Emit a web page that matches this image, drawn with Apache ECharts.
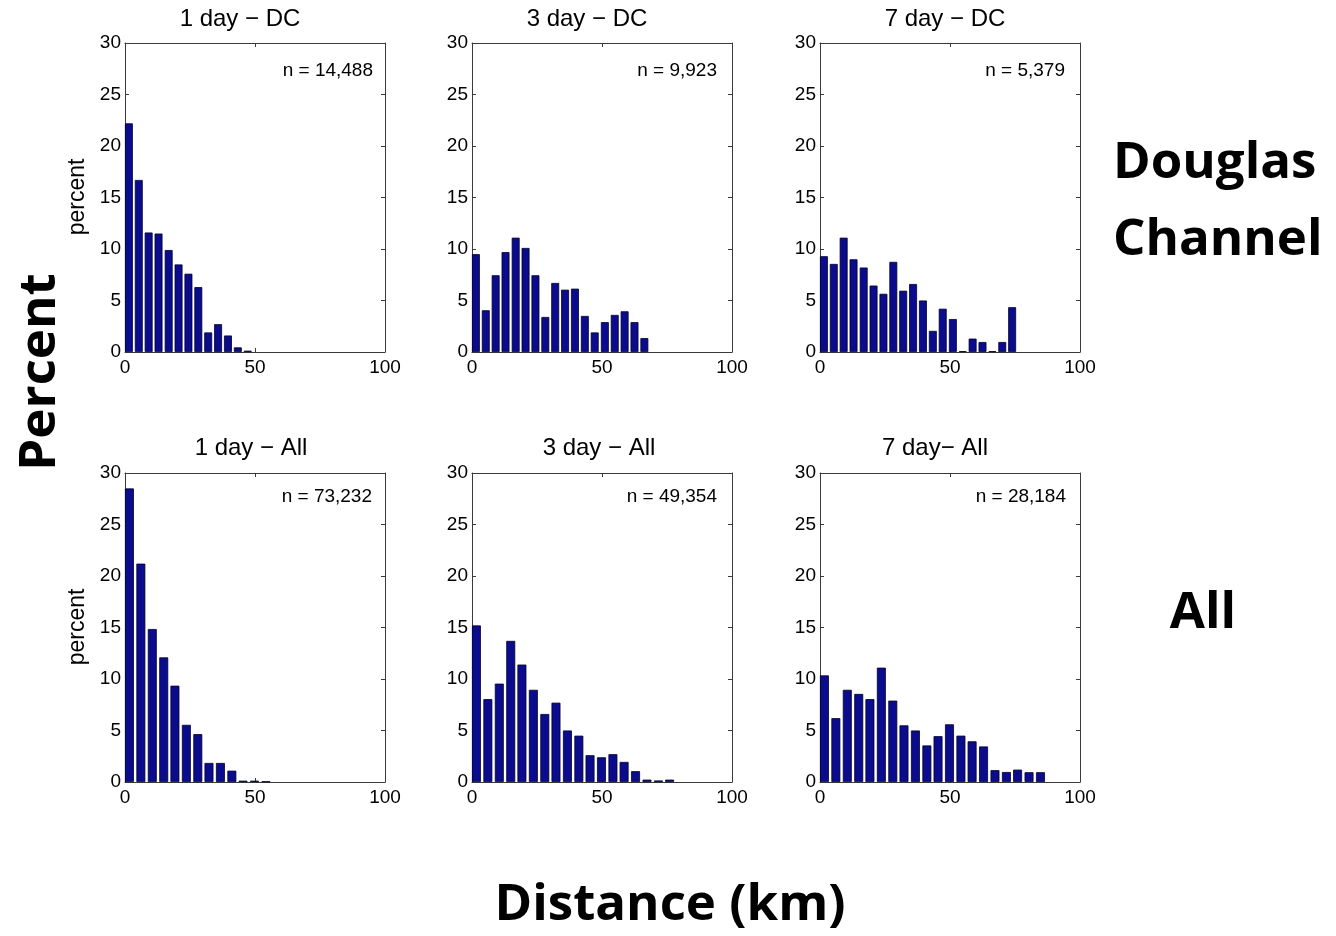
<!DOCTYPE html>
<html>
<head>
<meta charset="utf-8">
<title>Distance histograms</title>
<script src="https://cdn.jsdelivr.net/npm/echarts@6/dist/echarts.min.js"></script>
<style>
  html, body {margin: 0; padding: 0; background: #fff;}
  #chart {width: 1336px; height: 936px;}
</style>
</head>
<body>
<div id="chart"></div>
<script>
// bin centres in km (top row bins ~3.8 km wide, bottom row ~4.4 km)
const binsDC = [1.5, 5.3, 9.1, 12.9, 16.8, 20.6, 24.4, 28.2, 32.0, 35.8, 39.6, 43.4, 47.2, 51.1, 54.9, 58.7, 62.5, 66.3, 70.1, 73.9]
const binsAll = [1.7, 6.1, 10.5, 14.9, 19.2, 23.6, 28.0, 32.3, 36.7, 41.1, 45.4, 49.8, 54.2, 58.5, 62.9, 67.3, 71.7, 76.0, 80.4, 84.8]

// percent per bin
const day1DC = [22.2, 16.7, 11.6, 11.5, 9.9, 8.5, 7.6, 6.3, 1.9, 2.7, 1.6, 0.45, 0.13]
const day3DC = [9.5, 4.05, 7.45, 9.7, 11.1, 10.1, 7.45, 3.4, 6.7, 6.05, 6.15, 3.5, 1.9, 2.9, 3.6, 3.95, 2.9, 1.35]
const day7DC = [9.3, 8.55, 11.1, 9.0, 8.2, 6.45, 5.65, 8.75, 5.95, 6.6, 5.0, 2.05, 4.2, 3.2, 0.08, 1.3, 0.97, 0.08, 0.97, 4.35]
const day1All = [28.5, 21.2, 14.85, 12.1, 9.35, 5.55, 4.65, 1.85, 1.85, 1.1, 0.13, 0.13, 0.06]
const day3All = [15.2, 8.05, 9.55, 13.7, 11.4, 8.95, 6.6, 7.7, 5.0, 4.5, 2.6, 2.4, 2.7, 1.95, 1.05, 0.23, 0.15, 0.23]
const day7All = [10.35, 6.2, 8.95, 8.55, 8.05, 11.1, 7.9, 5.5, 5.0, 3.55, 4.45, 5.6, 4.5, 3.95, 3.45, 1.15, 0.97, 1.2, 0.95, 0.95]

const panelTitles = ['1 day \u2212 DC', '3 day \u2212 DC', '7 day \u2212 DC', '1 day \u2212 All', '3 day \u2212 All', '7 day\u2212 All']
const panelCounts = ['n = 14,488', 'n = 9,923', 'n = 5,379', 'n = 73,232', 'n = 49,354', 'n = 28,184']
const xTicks = {min: 0, max: 100, interval: 50}
const yTicks = {min: 0, max: 30, interval: 5}

const panels = [
  {values: day1DC, bins: binsDC},
  {values: day3DC, bins: binsDC},
  {values: day7DC, bins: binsDC},
  {values: day1All, bins: binsAll},
  {values: day3All, bins: binsAll},
  {values: day7All, bins: binsAll},
]

// layout in px
const colLeft = [125, 472, 820]
const rowTop = [43, 473]
const boxW = 260
const boxH = 309
const titleX = [240, 587, 945, 251, 599, 935]
const countRight = [373, 717, 1065, 372, 717, 1066]

const matFont = "'Liberation Sans', Arial, sans-serif"
const pptFont = "'Open Sans', sans-serif"
const frameColor = '#3a3a3a'

const grid = []
const xAxis = []
const yAxis = []
const series = []
const graphic = []

panels.forEach((p, i) => {
  const row = Math.floor(i / 3)
  const col = i % 3
  grid.push({left: colLeft[col], top: rowTop[row], width: boxW, height: boxH, containLabel: false})

  const lineStyle = {color: frameColor, width: 1}
  // main axes
  xAxis.push({
    type: 'value', gridIndex: i, ...xTicks,
    axisLine: {show: true, onZero: false, lineStyle},
    axisTick: {show: true, inside: true, length: 4, lineStyle},
    axisLabel: {fontSize: 19, fontFamily: matFont, color: '#000', margin: 6},
    splitLine: {show: false},
  })
  yAxis.push({
    type: 'value', gridIndex: i, ...yTicks,
    axisLine: {show: true, onZero: false, lineStyle},
    axisTick: {show: true, inside: true, length: 4, lineStyle},
    axisLabel: {fontSize: 19, fontFamily: matFont, color: '#000', margin: 4},
    splitLine: {show: false},
  })
  series.push({
    type: 'bar',
    xAxisIndex: i * 2,
    yAxisIndex: i * 2,
    barWidth: '80%',
    itemStyle: {color: '#0b0b8e', borderColor: '#00002a', borderWidth: 0.8},
    data: p.values.map((v, k) => [p.bins[k], v]),
  })
  // mirrored box axes (top / right) with inward ticks
  xAxis.push({
    type: 'value', gridIndex: i, position: 'top', ...xTicks,
    axisLine: {show: true, onZero: false, lineStyle},
    axisTick: {show: true, inside: true, length: 4, lineStyle},
    axisLabel: {show: false},
    splitLine: {show: false},
  })
  yAxis.push({
    type: 'value', gridIndex: i, position: 'right', ...yTicks,
    axisLine: {show: true, onZero: false, lineStyle},
    axisTick: {show: true, inside: true, length: 4, lineStyle},
    axisLabel: {show: false},
    splitLine: {show: false},
  })

  graphic.push({
    type: 'text', x: titleX[i], y: row ? 448 : 19,
    style: {text: panelTitles[i], fontSize: 24, fontFamily: matFont, fill: '#000', align: 'center', verticalAlign: 'middle'},
  })
  graphic.push({
    type: 'text', x: countRight[i], y: row ? 497 : 71,
    style: {text: panelCounts[i], fontSize: 19, fontFamily: matFont, fill: '#000', align: 'right', verticalAlign: 'middle'},
  })
})

// small "percent" labels on the left column
;[197, 627].forEach(cy => {
  graphic.push({
    type: 'text', x: 78, y: cy, rotation: Math.PI / 2,
    style: {text: 'percent', fontSize: 23, fontFamily: matFont, fill: '#000', align: 'center', verticalAlign: 'middle'},
  })
})

// slide labels
const bigText = (text, x, y, extra) => Object.assign({
  type: 'text', x, y,
  style: {text, fontSize: 51, fontWeight: 'bold', fontFamily: pptFont, fill: '#000', align: 'center', verticalAlign: 'middle'},
}, extra)
graphic.push(bigText('Percent', 40, 372, {rotation: Math.PI / 2}))
graphic.push(bigText('Douglas', 1113, 163, {style: {text: 'Douglas', fontSize: 51, fontWeight: 'bold', fontFamily: pptFont, fill: '#000', align: 'left', verticalAlign: 'middle'}}))
graphic.push(bigText('Channel', 1113, 240, {style: {text: 'Channel', fontSize: 51, fontWeight: 'bold', fontFamily: pptFont, fill: '#000', align: 'left', verticalAlign: 'middle'}}))
graphic.push(bigText('All', 1203, 613))
graphic.push(bigText('Distance (km)', 670, 905))

const chart = echarts.init(document.getElementById('chart'), null, {renderer: 'canvas'})
chart.setOption({
  animation: false,
  backgroundColor: '#fff',
  grid, xAxis, yAxis, series, graphic,
})
window.addEventListener('resize', () => chart.resize())
</script>
</body>
</html>
